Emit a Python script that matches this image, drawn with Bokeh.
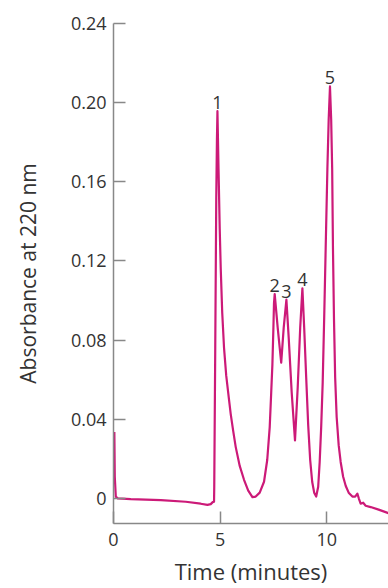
from bokeh.plotting import figure
from bokeh.models import Range1d, FixedTicker, CustomJSTickFormatter, ColumnDataSource
from bokeh.core.properties import value
from bokeh.embed import file_html
from bokeh.resources import INLINE

# Chromatogram trace
time_min = [0.04, 0.06, 0.108, 0.2, 0.81, 2.22, 3.39, 4.09, 4.407, 4.562, 4.655, 4.716,
            4.726, 4.773, 4.82, 4.852, 4.876,
            4.927, 4.983, 5.030, 5.101, 5.185, 5.288, 5.406, 5.499, 5.616, 5.734, 5.921,
            6.123, 6.320, 6.517, 6.671, 6.859, 7.061, 7.211, 7.328, 7.398, 7.454, 7.501, 7.529,
            7.562, 7.703, 7.867, 7.984, 8.111, 8.219, 8.359, 8.514, 8.641, 8.758, 8.861,
            8.945, 9.039, 9.133, 9.226, 9.320, 9.414, 9.508, 9.602, 9.672, 9.742, 9.813,
            9.883, 9.953, 10.033, 10.094, 10.155, 10.211, 10.258, 10.295, 10.342, 10.398,
            10.469, 10.563, 10.656, 10.773, 10.891, 11.031, 11.205, 11.336, 11.439, 11.514,
            11.594, 11.711, 11.829, 12.063, 12.438, 12.907]
absorbance = [0.0335, 0.0109, 0.0009, 0.0, -0.0004, -0.0009, -0.0017, -0.0027, -0.0033, -0.0029, -0.0019, -0.0017,
              0.0059, 0.0761, 0.1514, 0.1814, 0.1957,
              0.1664, 0.1363, 0.1163, 0.0937, 0.0761, 0.0620, 0.0510, 0.0426, 0.0340, 0.0259, 0.0164,
              0.0094, 0.0039, 0.0006, 0.0009, 0.0029, 0.0084, 0.0194, 0.0360, 0.0535, 0.0677, 0.0862, 0.0987,
              0.1032, 0.0862, 0.0686, 0.0862, 0.1004, 0.0811, 0.0535, 0.0293, 0.0560, 0.0862, 0.1062,
              0.0862, 0.0611, 0.0370, 0.0194, 0.0084, 0.0029, 0.0009, 0.0059, 0.0184, 0.0360, 0.0585,
              0.0912, 0.1263, 0.1664, 0.1915, 0.2082, 0.1915, 0.1664, 0.1263, 0.0912, 0.0611,
              0.0410, 0.0269, 0.0184, 0.0109, 0.0064, 0.0029, 0.0009, 0.0009, 0.0024, -0.0002,
              -0.0027, -0.0022, -0.0037, -0.0044, -0.0057, -0.0075]

peak_labels = ["1", "2", "3", "4", "5"]
peak_times = [4.876, 7.562, 8.111, 8.861, 10.155]

x_ticks = [0, 5, 10]
y_ticks = [0, 0.04, 0.08, 0.12, 0.16, 0.20, 0.24]

x_title = "Time (minutes)"
y_title = "Absorbance at 220 nm"

FONT = "Open Sans"
TEXT = "#333333"
AXIS = "#888888"
LINE = "#cc1a78"

p = figure(width=388, height=588, output_backend="svg", toolbar_location=None,
           x_range=Range1d(0, 12.9), y_range=Range1d(-0.0127, 0.24),
           min_border_left=113, min_border_right=0, min_border_top=23, min_border_bottom=61)
p.outline_line_color = None
p.grid.visible = False
p.background_fill_color = "white"
p.border_fill_color = "white"

p.line(time_min, absorbance, line_color=LINE, line_width=2.2, line_join="round")

peak_heights = [absorbance[time_min.index(t)] for t in peak_times]
src = ColumnDataSource(dict(x=peak_times, y=peak_heights, t=peak_labels))
p.text("x", "y", text="t", source=src, text_align="center", text_baseline="bottom",
       y_offset=-2, text_font=value(FONT), text_font_size="18px", text_color=TEXT)

for ax in (p.xaxis[0], p.yaxis[0]):
    ax.axis_line_color = AXIS
    ax.axis_line_width = 1.5
    ax.major_tick_line_color = AXIS
    ax.major_tick_line_width = 1.5
    ax.major_tick_in = 12
    ax.major_tick_out = 0
    ax.minor_tick_line_color = None
    ax.major_label_text_font = FONT
    ax.major_label_text_color = TEXT
    ax.axis_label_text_font = FONT
    ax.axis_label_text_color = TEXT
    ax.axis_label_text_font_style = "normal"

p.xaxis.ticker = FixedTicker(ticks=x_ticks)
p.xaxis.major_label_text_font_size = "18px"
p.xaxis.major_label_standoff = 9
p.xaxis.axis_label = x_title
p.xaxis.axis_label_text_font_size = "22px"
p.xaxis.axis_label_standoff = 7

p.yaxis.ticker = FixedTicker(ticks=y_ticks)
p.yaxis.formatter = CustomJSTickFormatter(code="return tick == 0 ? '0' : tick.toFixed(2);")
p.yaxis.major_label_text_font_size = "18px"
p.yaxis.major_label_standoff = 7
p.yaxis.axis_label = y_title
p.yaxis.axis_label_text_font_size = "21px"
p.yaxis.axis_label_standoff = 26

open("out.html", "w").write(file_html(p, INLINE))
